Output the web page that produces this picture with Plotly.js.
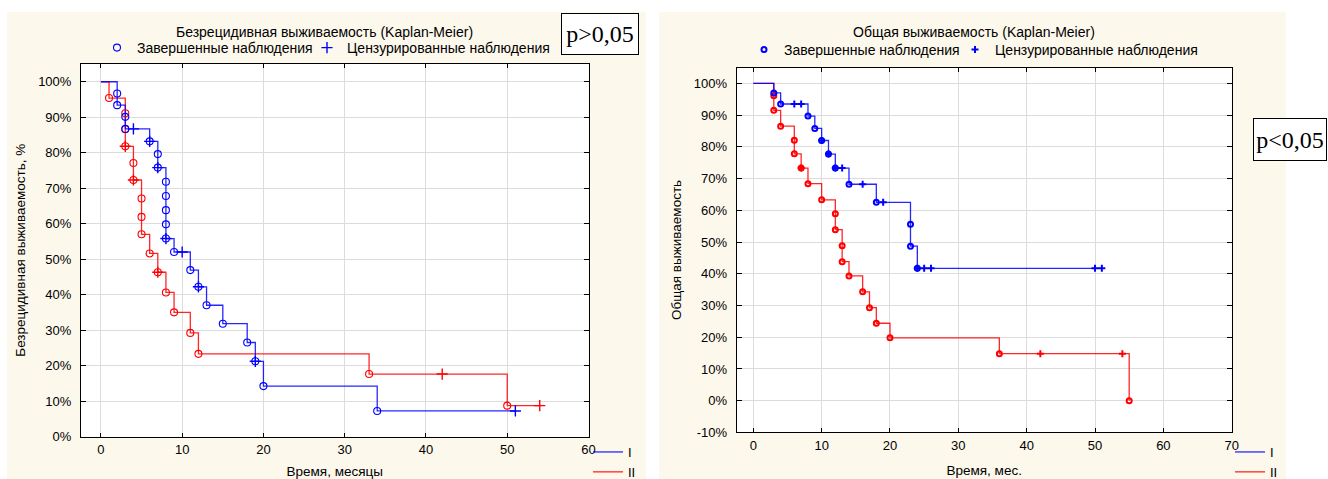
<!DOCTYPE html>
<html><head><meta charset="utf-8">
<script src="https://cdn.plot.ly/plotly-3.0.1.min.js"></script>
<style>html,body{margin:0;padding:0;background:#fff}#chart{width:1328px;height:479px}</style>
</head><body><div id="chart"></div>
<script>
// ===== Left chart: Безрецидивная выживаемость (months, %) =====
const dfsI_lineT  = [0,2,3,6,7,8,9,11,12,13,15,18,19,20,34,51];
const dfsI_lineS  = [100,93.4,86.7,83.2,75.8,55.8,52.0,46.9,42.2,37.0,31.8,26.5,21.2,14.2,7.2,7.2];
const dfsI_eventT = [2,2,3,3,6,7,7,8,8,8,8,8,9,11,12,13,15,18,19,20,34];
const dfsI_eventS = [96.7,93.4,90.1,86.7,83.2,79.6,75.8,71.8,67.8,63.8,59.8,55.8,52.0,46.9,42.2,37.0,31.8,26.5,21.2,14.2,7.2];
const dfsI_censT  = [4,6,7,8,10,12,19,51];
const dfsI_censS  = [86.7,83.2,75.8,55.8,52.0,42.2,21.2,7.2];

const dfsII_lineT  = [0,1,3,4,5,6,7,8,9,11,12,33,50,54];
const dfsII_lineS  = [100,95.4,81.8,72.3,57.0,51.6,46.3,40.6,35.0,29.2,23.3,17.6,8.7,8.7];
const dfsII_eventT = [1,3,3,3,4,4,5,5,5,6,7,8,9,11,12,33,50];
const dfsII_eventS = [95.4,91.1,86.6,81.8,77.1,72.3,67.1,61.9,57.0,51.6,46.3,40.6,35.0,29.2,23.3,17.6,8.7];
const dfsII_censT  = [3,4,7,42,54];
const dfsII_censS  = [81.8,72.3,46.3,17.6,8.7];

// ===== Right chart: Общая выживаемость (months, %) =====
const osI_lineT  = [0,3,4,8,9,10,11,12,14,18,23,24,51];
const osI_lineS  = [100,97.0,93.5,89.7,85.8,82.0,77.7,73.3,68.2,62.5,48.7,41.7,41.7];
const osI_eventT = [3,4,8,9,10,11,12,14,18,23,23,24];
const osI_eventS = [97.0,93.5,89.7,85.8,82.0,77.7,73.3,68.2,62.5,55.6,48.7,41.7];
const osI_censT  = [6,7,10,11,12,13,16,19,24,25,26,50,51];
const osI_censS  = [93.5,93.5,82.0,77.7,73.3,73.3,68.2,62.5,41.7,41.7,41.7,41.7,41.7];

const osII_lineT  = [0,3,4,6,7,8,10,12,13,14,16,17,18,20,36,55];
const osII_lineS  = [100,91.5,86.5,77.8,73.3,68.4,63.3,53.9,43.8,39.3,34.3,29.3,24.4,19.8,14.8,0];
const osII_eventT = [3,3,4,6,6,7,8,10,12,12,13,13,14,16,17,18,20,36,55];
const osII_eventS = [96.1,91.5,86.5,82.1,77.8,73.3,68.4,63.3,58.9,53.9,48.8,43.8,39.3,34.3,29.3,24.4,19.8,14.8,0];
const osII_censT  = [7,42,54];
const osII_censS  = [73.3,14.8,14.8];

// ===== Text =====
const titleLeft  = 'Безрецидивная выживаемость (Kaplan-Meier)';
const titleRight = 'Общая выживаемость (Kaplan-Meier)';
const nameEvent  = 'Завершенные наблюдения';
const nameCens   = 'Цензурированные наблюдения';
const groupNames = ['I','II'];
const yTitleLeft = 'Безрецидивная выживаемость, %';
const yTitleRight = 'Общая выживаемость';
const xTitleLeft = 'Время, месяцы';
const xTitleRight = 'Время, мес.';
const pLeft = 'p>0,05';
const pRight = 'p<0,05';
const xTicksLeft = [0,10,20,30,40,50,60];
const xTicksRight = [0,10,20,30,40,50,60,70];
const yTicksLeft = [0,10,20,30,40,50,60,70,80,90,100];
const yTicksRight = [-10,0,10,20,30,40,50,60,70,80,90,100];
const yTickTextLeft = yTicksLeft.map(v => v + '%');
const yTickTextRight = yTicksRight.map(v => v + '%');

// ===== Styles =====
const W = 1328, H = 479;
const FONT = 'Liberation Sans, Arial, sans-serif';
const BLUE = '#0000ff', RED = '#ff0000';
const CREAM = '#fdf8ec';
const px = v => v / W, py = v => 1 - v / H;

function lineTrace(t, s, color, name, xa, ya, leg, rank) {
  return {x: t, y: s, type: 'scatter', mode: 'lines', line: {shape: 'hv', color: color, width: 1.3},
          opacity: 0.85, name: name, xaxis: xa, yaxis: ya, legend: leg, legendrank: rank, hoverinfo: 'skip'};
}
function eventTrace(t, s, color, name, xa, ya, leg, show, big) {
  return {x: t, y: s, type: 'scatter', mode: 'markers', name: name, xaxis: xa, yaxis: ya, legend: leg, showlegend: show,
          marker: big ? {symbol: 'circle-open', size: 7, color: color, line: {width: 1.1, color: color}}
                      : {symbol: 'circle-open', size: 5, color: color, line: {width: 2, color: color}}, hoverinfo: 'skip'};
}
function censTrace(t, s, color, name, xa, ya, leg, show, big) {
  return {x: t, y: s, type: 'scatter', mode: 'markers', name: name, xaxis: xa, yaxis: ya, legend: leg, showlegend: show,
          marker: big ? {symbol: 'cross-thin-open', size: 8, color: color, line: {width: 1.4, color: color}}
                      : {symbol: 'cross-thin-open', size: 5, color: color, line: {width: 2, color: color}}, hoverinfo: 'skip'};
}

const data = [
  lineTrace(dfsII_lineT, dfsII_lineS, RED, groupNames[1], 'x', 'y', 'legend2', 2),
  lineTrace(dfsI_lineT, dfsI_lineS, BLUE, groupNames[0], 'x', 'y', 'legend2', 1),
  eventTrace(dfsII_eventT, dfsII_eventS, RED, nameEvent, 'x', 'y', 'legend', false, true),
  eventTrace(dfsI_eventT, dfsI_eventS, BLUE, nameEvent, 'x', 'y', 'legend', true, true),
  censTrace(dfsII_censT, dfsII_censS, RED, nameCens, 'x', 'y', 'legend5', false, true),
  censTrace(dfsI_censT, dfsI_censS, BLUE, nameCens, 'x', 'y', 'legend5', true, true),

  lineTrace(osII_lineT, osII_lineS, RED, groupNames[1], 'x2', 'y2', 'legend4', 2),
  lineTrace(osI_lineT, osI_lineS, BLUE, groupNames[0], 'x2', 'y2', 'legend4', 1),
  eventTrace(osII_eventT, osII_eventS, RED, nameEvent, 'x2', 'y2', 'legend3', false, false),
  eventTrace(osI_eventT, osI_eventS, BLUE, nameEvent, 'x2', 'y2', 'legend3', true, false),
  censTrace(osII_censT, osII_censS, RED, nameCens, 'x2', 'y2', 'legend6', false, false),
  censTrace(osI_censT, osI_censS, BLUE, nameCens, 'x2', 'y2', 'legend6', true, false)
];

const tickFont = {family: FONT, size: 13, color: '#000'};
const GRID = '#dcdcdc';
function baseX(domain, range, ticks, anchor, title, standoff) {
  return {domain: domain, range: range, tickvals: ticks, anchor: anchor, showgrid: true, gridcolor: GRID, gridwidth: 1,
          zeroline: false, showline: true, linecolor: '#000', linewidth: 1, mirror: 'ticks',
          ticks: 'inside', ticklen: 4, tickcolor: '#000', tickfont: tickFont, ticklabelstandoff: 1,
          title: {text: title, font: {family: FONT, size: 13.5, color: '#000'}, standoff: standoff}};
}
function baseY(domain, range, ticks, tickText, anchor, title, standoff) {
  return {domain: domain, range: range, tickvals: ticks, ticktext: tickText, anchor: anchor, showgrid: true, gridcolor: GRID, gridwidth: 1,
          zeroline: false, showline: true, linecolor: '#000', linewidth: 1, mirror: 'ticks',
          ticks: 'inside', ticklen: 5, tickcolor: '#000', tickfont: tickFont, ticklabelstandoff: 6,
          title: {text: title, font: {family: FONT, size: 13.5, color: '#000'}, standoff: standoff}};
}
function topLegend(xPx, yPx) {
  return {orientation: 'h', xref: 'paper', yref: 'paper', x: px(xPx), xanchor: 'left', y: py(yPx), yanchor: 'middle',
          bgcolor: 'rgba(0,0,0,0)', font: {family: FONT, size: 14, color: '#000'}};
}
function groupLegend(xPx, yPx) {
  return {orientation: 'v', xref: 'paper', yref: 'paper', x: px(xPx), xanchor: 'left', y: py(yPx), yanchor: 'top',
          bgcolor: 'rgba(0,0,0,0)', font: {family: FONT, size: 13, color: '#000'}, tracegroupgap: 0};
}

const xdomL = [px(81), px(588.5)], ydomL = [py(436.5), py(64)];
const xdomR = [px(736.7), px(1231.7)], ydomR = [py(432.4), py(67.5)];
const xrL = [-2.45, 60], yrL = [0, 105];
const xrR = [-2.43, 70], yrR = [-10, 105];

const layout = {
  width: W, height: H,
  margin: {l: 0, r: 0, t: 0, b: 0, autoexpand: false},
  paper_bgcolor: '#ffffff', plot_bgcolor: '#ffffff',
  font: {family: FONT, color: '#000'},
  xaxis: baseX(xdomL, xrL, xTicksLeft, 'y', xTitleLeft, 17),
  yaxis: baseY(ydomL, yrL, yTicksLeft, yTickTextLeft, 'x', yTitleLeft, 9),
  xaxis2: baseX(xdomR, xrR, xTicksRight, 'y2', xTitleRight, 13),
  yaxis2: baseY(ydomR, yrR, yTicksRight, yTickTextRight, 'x2', yTitleRight, 9),
  legend:  topLegend(97, 48),
  legend5: topLegend(307, 48),
  legend3: topLegend(744, 50),
  legend6: topLegend(955, 50),
  legend2: groupLegend(588, 437),
  legend4: groupLegend(1230, 437),
  shapes: [
    {type: 'rect', xref: 'paper', yref: 'paper', x0: px(7), x1: px(646), y0: 0, y1: py(12), fillcolor: CREAM, line: {width: 0}, layer: 'below'},
    {type: 'rect', xref: 'paper', yref: 'paper', x0: px(659), x1: px(1286), y0: 0, y1: py(12), fillcolor: CREAM, line: {width: 0}, layer: 'below'},
    {type: 'rect', xref: 'x domain', yref: 'y domain', x0: 0, x1: 1, y0: 0, y1: 1, fillcolor: '#ffffff', line: {width: 0}, layer: 'below'},
    {type: 'rect', xref: 'x2 domain', yref: 'y2 domain', x0: 0, x1: 1, y0: 0, y1: 1, fillcolor: '#ffffff', line: {width: 0}, layer: 'below'}
  ],
  annotations: [
    {text: titleLeft, xref: 'paper', yref: 'paper', x: px(324), y: py(32), xanchor: 'center', yanchor: 'middle', showarrow: false,
     font: {family: FONT, size: 14, color: '#000'}},
    {text: titleRight, xref: 'paper', yref: 'paper', x: px(974), y: py(32), xanchor: 'center', yanchor: 'middle', showarrow: false,
     font: {family: FONT, size: 14, color: '#000'}},
    {text: pLeft, xref: 'paper', yref: 'paper', x: px(600), y: py(34), xanchor: 'center', yanchor: 'middle', showarrow: false,
     font: {family: 'Liberation Serif, Times New Roman, serif', size: 24, color: '#000'},
     bordercolor: '#000', borderwidth: 1, borderpad: 1, bgcolor: '#ffffff', width: 74, height: 38},
    {text: pRight, xref: 'paper', yref: 'paper', x: px(1290), y: py(139), xanchor: 'center', yanchor: 'middle', showarrow: false,
     font: {family: 'Liberation Serif, Times New Roman, serif', size: 24, color: '#000'},
     bordercolor: '#000', borderwidth: 1, borderpad: 1, bgcolor: '#ffffff', width: 70, height: 39}
  ]
};

Plotly.newPlot('chart', data, layout, {staticPlot: true, displayModeBar: false});
</script>
</body></html>
